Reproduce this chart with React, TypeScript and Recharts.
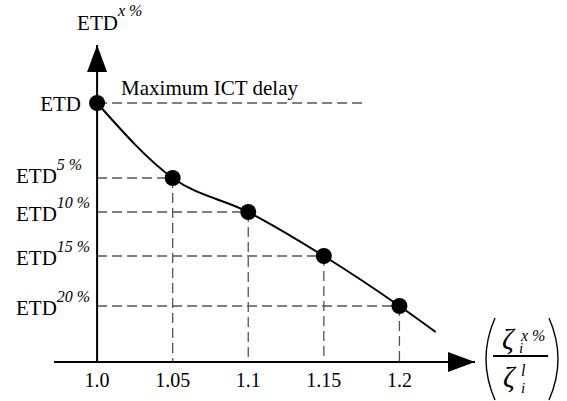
import React from "react";
import {
  LineChart,
  Line,
  XAxis,
  YAxis,
  ReferenceLine,
  ReferenceDot,
} from "recharts";

// delay ratio (zeta^x% / zeta^l) at each ETD level
const ratioValues = [1.0, 1.05, 1.1, 1.15, 1.2];
const etdValues = [259, 184, 150, 106, 56];
const etdSupLabels = ["", "5 %", "10 %", "15 %", "20 %"];
// where the drawn curve stops past the last point
const tailRatio = 1.224;
const tailEtd = 30;

const xTicks = [1.0, 1.05, 1.1, 1.15, 1.2];
const xTickLabels = ["1.0", "1.05", "1.1", "1.15", "1.2"];
const maxDelayEnd = 1.176;

const FONT = "Liberation Serif";
const serif = { fontFamily: FONT };

const chartData = [
  ...ratioValues.map((r, i) => ({ ratio: r, etd: etdValues[i] })),
  { ratio: tailRatio, etd: tailEtd },
];

const YTick = (props: any) => {
  const { y, payload } = props;
  const idx = etdValues.indexOf(payload.value);
  const sup = etdSupLabels[idx];
  if (!sup) {
    return (
      <text x={81} y={y + 8} textAnchor="end" style={serif} fontSize={21} fill="#000">
        ETD
      </text>
    );
  }
  return (
    <text x={16} y={y + (idx === 1 ? 5 : 9)} textAnchor="start" style={serif} fontSize={21} fill="#000">
      ETD
      <tspan dy={-13} fontSize={16} fontStyle="italic">
        {sup}
      </tspan>
    </text>
  );
};

const XArrow = (props: any) => {
  const { cx, cy } = props;
  return (
    <g>
      <polygon points={`${cx},${cy} ${cx - 27},${cy - 10} ${cx - 27},${cy + 10}`} fill="#000" />
      <path d={`M ${cx + 20} ${cy - 44} Q ${cx + 2} ${cy - 3} ${cx + 20} ${cy + 38}`} stroke="#000" strokeWidth={1.4} fill="none" />
      <path d={`M ${cx + 74} ${cy - 44} Q ${cx + 92} ${cy - 3} ${cx + 74} ${cy + 38}`} stroke="#000" strokeWidth={1.4} fill="none" />
      <line x1={cx + 18} x2={cx + 73} y1={cy - 6} y2={cy - 6} stroke="#000" strokeWidth={1.8} />
      <g style={serif} fontStyle="italic" fill="#000">
        <text x={cx + 27} y={cy - 13} fontSize={29}>ζ</text>
        <text x={cx + 46} y={cy - 21} fontSize={16}>x %</text>
        <text x={cx + 44} y={cy - 9} fontSize={15}>i</text>
        <text x={cx + 28} y={cy + 25} fontSize={29}>ζ</text>
        <text x={cx + 46} y={cy + 14} fontSize={16}>l</text>
        <text x={cx + 46} y={cy + 31} fontSize={15}>i</text>
      </g>
    </g>
  );
};

const YArrow = (props: any) => {
  const { cx, cy } = props;
  return (
    <g>
      <polygon points={`${cx},${cy} ${cx - 10},${cy + 27} ${cx + 10},${cy + 27}`} fill="#000" />
      <text x={cx - 20} y={cy - 15} style={serif} fontSize={21} fill="#000">
        ETD
        <tspan dy={-14} fontSize={16} fontStyle="italic">
          x %
        </tspan>
      </text>
    </g>
  );
};

const MaxLabel = (props: any) => {
  const { cx, cy } = props;
  return (
    <text x={cx + 24} y={cy - 8} style={serif} fontSize={21} fill="#000">
      Maximum ICT delay
    </text>
  );
};

const renderDot = (props: any) => {
  const { cx, cy, index } = props;
  if (index >= ratioValues.length) return <g key={`d${index}`} />;
  return <circle key={`d${index}`} cx={cx} cy={cy} r={8} fill="#000" />;
};

export default function App() {
  const dash = { stroke: "#555", strokeWidth: 1.3, strokeDasharray: "10 5" };
  return (
    <div style={{ position: "absolute", left: 0, top: 0, background: "#fff", fontFamily: FONT }}>
      <LineChart
        width={567}
        height={401}
        data={chartData}
        margin={{ top: 45, right: 92, bottom: 0, left: 0 }}
        style={serif}
      >
        <XAxis
          type="number"
          dataKey="ratio"
          domain={[0.9715, 1.25]}
          ticks={xTicks}
          tickFormatter={(v: number) => xTickLabels[xTicks.indexOf(v)] ?? ""}
          height={39}
          tickLine={false}
          tickSize={0}
          tickMargin={11}
          axisLine={{ stroke: "#000", strokeWidth: 2 }}
          tick={{ fill: "#000", fontSize: 20, style: serif }}
          allowDataOverflow
        />
        <YAxis
          type="number"
          domain={[0, 317]}
          ticks={etdValues}
          width={54}
          axisLine={false}
          tickLine={false}
          tick={<YTick />}
          allowDataOverflow
        />
        <ReferenceLine
          segment={[
            { x: ratioValues[0], y: etdValues[0] },
            { x: maxDelayEnd, y: etdValues[0] },
          ]}
          {...dash}
        />
        {ratioValues.slice(1).map((r, i) => (
          <ReferenceLine
            key={`h${r}`}
            segment={[
              { x: ratioValues[0], y: etdValues[i + 1] },
              { x: r, y: etdValues[i + 1] },
            ]}
            {...dash}
          />
        ))}
        {ratioValues.slice(1).map((r, i) => (
          <ReferenceLine
            key={`v${r}`}
            segment={[
              { x: r, y: etdValues[i + 1] },
              { x: r, y: 0 },
            ]}
            {...dash}
          />
        ))}
        <ReferenceLine x={ratioValues[0]} stroke="#000" strokeWidth={2} />
        <ReferenceDot x={1.25} y={0} shape={XArrow} ifOverflow="visible" />
        <ReferenceDot x={ratioValues[0]} y={317} shape={YArrow} ifOverflow="visible" />
        <ReferenceDot x={ratioValues[0]} y={etdValues[0]} shape={MaxLabel} />
        <Line
          type="monotone"
          dataKey="etd"
          stroke="#000"
          strokeWidth={2}
          dot={renderDot}
          activeDot={false}
          isAnimationActive={false}
        />
      </LineChart>
    </div>
  );
}
